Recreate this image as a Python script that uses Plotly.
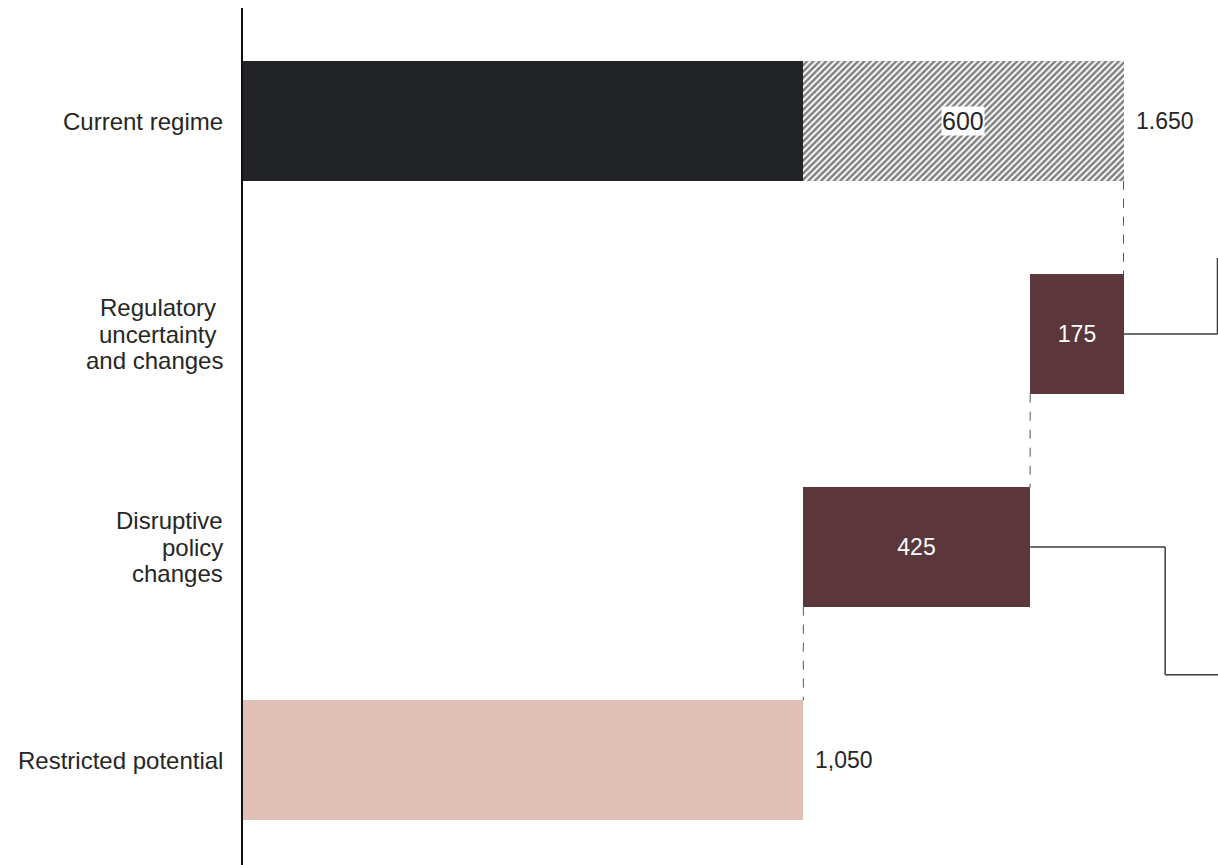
import plotly.graph_objects as go

# Waterfall: current regime potential, reductions, restricted potential
category_labels = [
    ["Current regime"],
    ["Regulatory\u00a0", "uncertainty\u00a0", "and changes"],
    ["Disruptive", "policy", "changes"],
    ["Restricted potential"],
]
current_base = 1050
current_upside = 600
current_total = 1650
reduction_values = [175, 425]
restricted_value = 1050

total_text = "1.650"
restricted_text = "1,050"

FONT = "Liberation Sans, Arial, sans-serif"
TEXT = "#262626"
BLACK = "#222326"
MAROON = "#5b373b"
PINK = "#e0c0b5"
BAR_W = 0.56
LABEL_SIZE = 24
LINE_STEP = 0.123  # spacing of wrapped category lines, in category units

# running positions of the reduction steps
reduction_bases = []
level = current_total
for v in reduction_values:
    level -= v
    reduction_bases.append(level)

fig = go.Figure()

fig.add_trace(go.Bar(
    y=[0], x=[current_base], base=[0], orientation="h", width=BAR_W,
    marker=dict(color=BLACK, line=dict(width=0)), hoverinfo="skip",
))
fig.add_trace(go.Bar(
    y=[0], x=[current_upside], base=[current_base], orientation="h", width=BAR_W,
    marker=dict(color="white", line=dict(width=0),
                pattern=dict(shape="/", fgcolor="#000000", bgcolor="white",
                             size=4.5, solidity=0.55)),
    hoverinfo="skip",
))
fig.add_trace(go.Bar(
    y=[1, 2], x=reduction_values, base=reduction_bases, orientation="h", width=BAR_W,
    marker=dict(color=MAROON, line=dict(width=0)),
    text=[str(v) for v in reduction_values], textposition="inside",
    insidetextanchor="middle",
    textfont=dict(family=FONT, size=23, color="white"),
    hoverinfo="skip",
))
fig.add_trace(go.Bar(
    y=[3], x=[restricted_value], base=[0], orientation="h", width=BAR_W,
    marker=dict(color=PINK, line=dict(width=0)), hoverinfo="skip",
))

# value labels
annotations = [
    dict(x=current_base + current_upside / 2, y=0, text=str(current_upside),
         showarrow=False, bgcolor="white", borderpad=0,
         font=dict(family=FONT, size=25, color=TEXT)),
    dict(x=current_total, y=0, text=total_text, showarrow=False,
         xanchor="left", xshift=10, font=dict(family=FONT, size=23, color=TEXT)),
    dict(x=restricted_value, y=3, text=restricted_text, showarrow=False,
         xanchor="left", xshift=10, font=dict(family=FONT, size=23, color=TEXT)),
]

# category labels, one annotation per line, right-aligned left of the axis
for i, lines in enumerate(category_labels):
    n = len(lines)
    for j, line in enumerate(lines):
        annotations.append(dict(
            xref="paper", yref="y", x=0, y=i + (j - (n - 1) / 2) * LINE_STEP,
            text=line, showarrow=False, xanchor="right", yanchor="middle",
            xshift=-18, font=dict(family=FONT, size=LABEL_SIZE, color=TEXT),
        ))

half = BAR_W / 2
shapes = []
# dashed connectors between steps
steps = [(current_total, 0, 1), (reduction_bases[0], 1, 2), (reduction_bases[1], 2, 3)]
for xv, y0, y1 in steps:
    shapes.append(dict(type="line", xref="x", yref="y", x0=xv, x1=xv,
                       y0=y0 + half, y1=y1 - half,
                       line=dict(color="#555555", width=1, dash="dash")))

# leader lines running off to the right
lead = dict(color="#3a3a3a", width=1.5)
right_edge = 1826
shapes.append(dict(type="line", xref="x", yref="y", x0=current_total, x1=right_edge,
                   y0=1, y1=1, line=lead))
shapes.append(dict(type="line", xref="x", yref="y", x0=right_edge, x1=right_edge,
                   y0=1, y1=0.643, line=lead))
shapes.append(dict(type="line", xref="x", yref="y", x0=current_total - reduction_values[0],
                   x1=1728, y0=2, y1=2, line=lead))
shapes.append(dict(type="line", xref="x", yref="y", x0=1728, x1=1728,
                   y0=2, y1=2.6, line=lead))
shapes.append(dict(type="line", xref="x", yref="y", x0=1728, x1=right_edge + 5,
                   y0=2.6, y1=2.6, line=lead))

fig.update_layout(
    width=1218, height=865,
    margin=dict(l=243, r=0, t=8, b=0),
    paper_bgcolor="white", plot_bgcolor="white",
    barmode="overlay", showlegend=False, bargap=0,
    annotations=annotations, shapes=shapes,
    font=dict(family=FONT, size=23, color=TEXT),
)
fig.update_xaxes(range=[0, 1827], visible=False, showgrid=False, zeroline=False)
fig.update_yaxes(
    range=[3.493, -0.531], tickmode="array", tickvals=[0, 1, 2, 3],
    showticklabels=False, showgrid=False, zeroline=False,
    showline=True, linecolor="#111111", linewidth=2, ticks="",
)

fig.write_html("out.html")
